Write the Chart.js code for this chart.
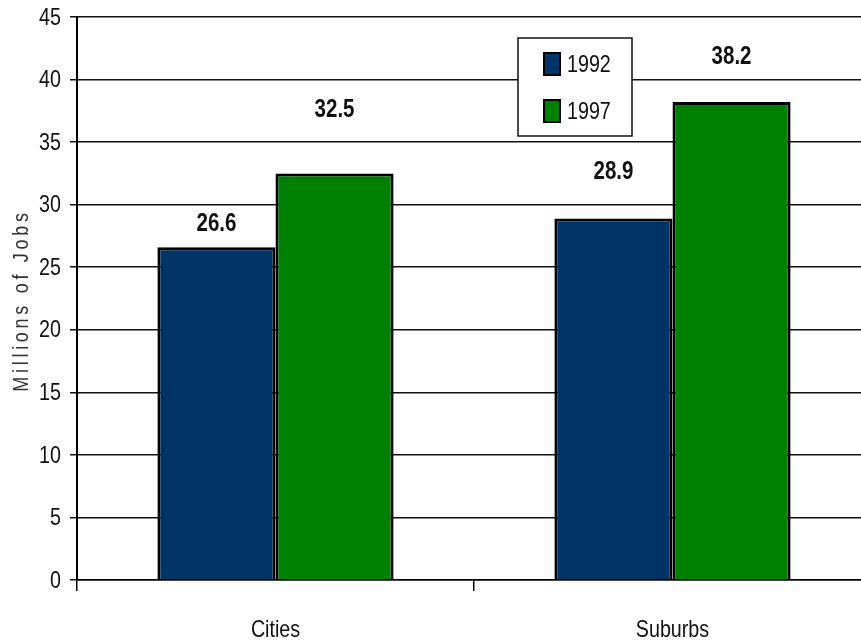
<!DOCTYPE html>
<html>
<head>
<meta charset="utf-8">
<script src="https://cdn.jsdelivr.net/npm/chart.js@4"></script>
<style>
  html, body { margin: 0; padding: 0; background: #fff; overflow: hidden; }
  #wrap { width: 861px; height: 643px; overflow: hidden; position: relative; }
  #box { width: 875px; height: 643px; position: absolute; left: 0; top: 0; }
</style>
</head>
<body>
<div id="wrap"><div id="box"><canvas id="c"></canvas></div></div>
<script>
const categories = ['Cities', 'Suburbs'];
const seriesNames = ['1992', '1997'];
const values1992 = [26.6, 28.9];
const values1997 = [32.5, 38.2];
const yTicks = [0, 5, 10, 15, 20, 25, 30, 35, 40, 45];
const yTitle = 'Millions of Jobs';

const FONT = "'Liberation Sans', Arial, sans-serif";
const NARROW = 0.82;

// draw horizontally condensed text (Arial Narrow look)
function narrowText(ctx, text, x, y, font, color, align) {
  ctx.save();
  ctx.font = font;
  ctx.fillStyle = color;
  ctx.textBaseline = 'middle';
  ctx.textAlign = align || 'center';
  ctx.translate(x, y);
  ctx.scale(NARROW, 1);
  ctx.fillText(text, 0, 0);
  ctx.restore();
}

// pixel offsets of value labels above bar tops (style)
const labelLift = [[23, 46], [63, 45]];

const textPlugin = {
  id: 'textPlugin',
  afterDatasetsDraw(chart) {
    const ctx = chart.ctx;
    chart.data.datasets.forEach((ds, di) => {
      chart.getDatasetMeta(di).data.forEach((bar, i) => {
        narrowText(ctx, ds.data[i].toFixed(1), bar.x, bar.y - labelLift[di][i], 'bold 25px ' + FONT, '#111', 'center');
      });
    });
  },
  afterDraw(chart) {
    const ctx = chart.ctx;
    const ys = chart.scales.y, xs = chart.scales.x;
    // y tick labels
    ys.ticks.forEach(t => {
      narrowText(ctx, String(t.value), ys.right - 16, ys.getPixelForValue(t.value) + 1, '24px ' + FONT, '#111', 'right');
    });
    // x category labels
    chart.data.labels.forEach((lab, i) => {
      narrowText(ctx, lab, xs.getPixelForTick(i), xs.top + 50, '24px ' + FONT, '#111', 'center');
    });
    // y title
    const a = chart.chartArea;
    ctx.save();
    ctx.translate(22, (a.top + a.bottom) / 2 + 2);
    ctx.rotate(-Math.PI / 2);
    ctx.scale(NARROW, 1);
    ctx.font = '22px ' + FONT;
    try { ctx.letterSpacing = '4.5px'; } catch (e) {}
    ctx.fillStyle = '#333';
    ctx.textAlign = 'center';
    ctx.textBaseline = 'middle';
    ctx.fillText(yTitle, 0, 0);
    ctx.restore();
    // legend box
    const x = 518, y = 38, w = 114, h = 98;
    ctx.save();
    ctx.fillStyle = '#fff';
    ctx.fillRect(x, y, w, h);
    ctx.strokeStyle = '#111';
    ctx.lineWidth = 1.5;
    ctx.strokeRect(x, y, w, h);
    chart.data.datasets.forEach((ds, i) => {
      const cy = y + 26 + i * 47;
      ctx.fillStyle = ds.backgroundColor;
      ctx.fillRect(x + 26, cy - 11, 16, 22);
      ctx.strokeStyle = '#000';
      ctx.lineWidth = 2;
      ctx.strokeRect(x + 26, cy - 11, 16, 22);
      narrowText(ctx, ds.label, x + 49, cy + 1, '24px ' + FONT, '#111', 'left');
    });
    ctx.restore();
  }
};

new Chart(document.getElementById('c'), {
  type: 'bar',
  data: {
    labels: categories,
    datasets: [
      { label: seriesNames[0], data: values1992, backgroundColor: '#003366', borderColor: '#000', borderWidth: 3, borderSkipped: 'bottom' },
      { label: seriesNames[1], data: values1997, backgroundColor: '#008000', borderColor: '#000', borderWidth: 3, borderSkipped: 'bottom' }
    ]
  },
  options: {
    responsive: true,
    maintainAspectRatio: false,
    animation: false,
    devicePixelRatio: 1,
    layout: { padding: { top: 17, right: 4, left: 0, bottom: 0 } },
    plugins: { legend: { display: false }, tooltip: { enabled: false } },
    datasets: { bar: { categoryPercentage: 0.595, barPercentage: 1 } },
    scales: {
      x: {
        grid: { display: true, offset: true, drawOnChartArea: false, drawTicks: true, tickLength: 11, color: '#000', lineWidth: 1.5 },
        border: { display: true, color: '#000', width: 1.5 },
        ticks: { display: false },
        afterFit(s) { s.height = 63; }
      },
      y: {
        min: 0, max: 45,
        afterBuildTicks(s) { s.ticks = yTicks.map(v => ({ value: v })); },
        grid: { color: '#111', lineWidth: 1.5, tickLength: 7 },
        border: { display: true, color: '#000', width: 2 },
        ticks: { display: false },
        afterFit(s) { s.width = 77; }
      }
    }
  },
  plugins: [textPlugin]
});
</script>
</body>
</html>
